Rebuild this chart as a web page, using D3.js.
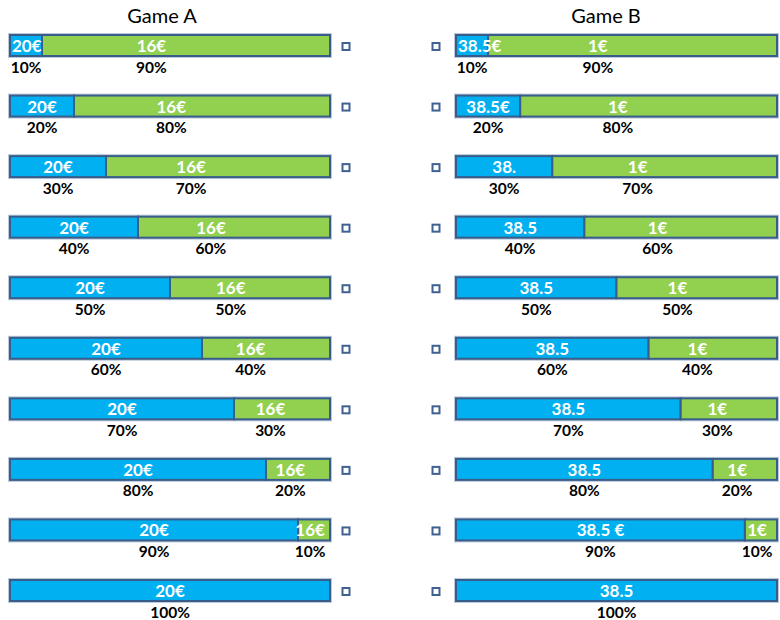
<!DOCTYPE html>
<html>
<head>
<meta charset="utf-8">
<script src="https://cdn.jsdelivr.net/npm/d3@7/dist/d3.min.js"></script>
<style>
  html, body { margin: 0; padding: 0; background: #ffffff; }
  svg { display: block; }
  text { font-family: Lato, "Open Sans", "DejaVu Sans", sans-serif; }
</style>
</head>
<body>
<svg id="chart" width="780" height="620"></svg>
<script>
// ---- data ----
const titles = ["Game A", "Game B"];
const bluePct = [10, 20, 30, 40, 50, 60, 70, 80, 90, 100];
const greenPct = [90, 80, 70, 60, 50, 40, 30, 20, 10, 0];
const blueLabelsA = ["20€", "20€", "20€", "20€", "20€", "20€", "20€", "20€", "20€", "20€"];
const greenLabelsA = ["16€", "16€", "16€", "16€", "16€", "16€", "16€", "16€", "16€", ""];
const blueLabelsB = ["38.5€", "38.5€", "38.", "38.5", "38.5", "38.5", "38.5", "38.5", "38.5 €", "38.5"];
const greenLabelsB = ["1€", "1€", "1€", "1€", "1€", "1€", "1€", "1€", "1€", ""];

// ---- styles ----
const BLUE = "#00b0f0", GREEN = "#92d050", OUTLINE = "#385d8a", HALO = "#bccadb";
const BAR_H = 21;

const svg = d3.select("#chart");

const y = d3.scaleLinear().domain([0, bluePct.length - 1]).range([35, 580]);

const panels = [
  { title: titles[0], x: d3.scaleLinear().domain([0, 100]).range([10, 330]), titleX: 162,
    blue: blueLabelsA, green: greenLabelsA, markerX: 346 },
  { title: titles[1], x: d3.scaleLinear().domain([0, 100]).range([456, 777]), titleX: 606,
    blue: blueLabelsB, green: greenLabelsB, markerX: 436 }
];

const rows = bluePct.map((b, i) => ({ i, b, g: greenPct[i] }));

panels.forEach(p => {
  const g = svg.append("g");
  const x = p.x;

  g.append("text")
    .attr("x", p.titleX).attr("y", 23)
    .attr("text-anchor", "middle")
    .attr("font-size", 20).attr("fill", "#000")
    .text(p.title);

  const row = g.selectAll("g.row").data(rows).enter().append("g").attr("class", "row");

  // halo
  row.append("rect")
    .attr("x", x(0)).attr("y", d => y(d.i))
    .attr("width", x(100) - x(0)).attr("height", BAR_H)
    .attr("fill", "none").attr("stroke", HALO).attr("stroke-width", 4);

  // blue segment
  row.append("rect")
    .attr("x", x(0)).attr("y", d => y(d.i))
    .attr("width", d => x(d.b) - x(0)).attr("height", BAR_H)
    .attr("fill", BLUE).attr("stroke", OUTLINE).attr("stroke-width", 2);

  // green segment
  row.filter(d => d.g > 0).append("rect")
    .attr("x", d => x(d.b)).attr("y", d => y(d.i))
    .attr("width", d => x(d.b + d.g) - x(d.b)).attr("height", BAR_H)
    .attr("fill", GREEN).attr("stroke", OUTLINE).attr("stroke-width", 2);

  const blueX = d => (x(0) + x(d.b)) / 2;
  const greenX = d => x(d.b) + (x(d.b + d.g) - x(d.b)) * 0.38;

  // value labels (kept inside the bar's left edge when they overflow)
  row.append("text")
    .attr("y", d => y(d.i) + 17)
    .attr("text-anchor", "middle").attr("font-size", 17).attr("font-weight", "bold")
    .attr("fill", "#fff")
    .text(d => p.blue[d.i])
    .attr("x", function (d) {
      const w = this.getComputedTextLength();
      return Math.max(blueX(d), x(0) + 2 + w / 2);
    });

  row.filter(d => d.g > 0).append("text")
    .attr("y", d => y(d.i) + 17)
    .attr("text-anchor", "middle").attr("font-size", 17).attr("font-weight", "bold")
    .attr("fill", "#fff")
    .text(d => p.green[d.i])
    .attr("x", function (d) {
      const w = this.getComputedTextLength();
      return Math.min(greenX(d), x(100) - w / 2 + 1);
    });

  // percent labels
  row.append("text")
    .attr("x", blueX).attr("y", d => y(d.i) + BAR_H + 16.5)
    .attr("text-anchor", "middle").attr("font-size", 15.5).attr("font-weight", "bold")
    .attr("fill", "#000")
    .text(d => d.b + "%");

  row.filter(d => d.g > 0).append("text")
    .attr("y", d => y(d.i) + BAR_H + 16.5)
    .attr("text-anchor", "middle").attr("font-size", 15.5).attr("font-weight", "bold")
    .attr("fill", "#000")
    .text(d => d.g + "%")
    .attr("x", function (d) {
      const w = this.getComputedTextLength();
      return Math.min(greenX(d), x(100) - w / 2 + 1);
    });

  // small square markers
  row.append("rect")
    .attr("x", p.markerX - 3.5).attr("y", d => y(d.i) + BAR_H / 2 - 2.5)
    .attr("width", 7).attr("height", 7)
    .attr("fill", "#fff").attr("stroke", "#3f6191").attr("stroke-width", 2);
});
</script>
</body>
</html>
